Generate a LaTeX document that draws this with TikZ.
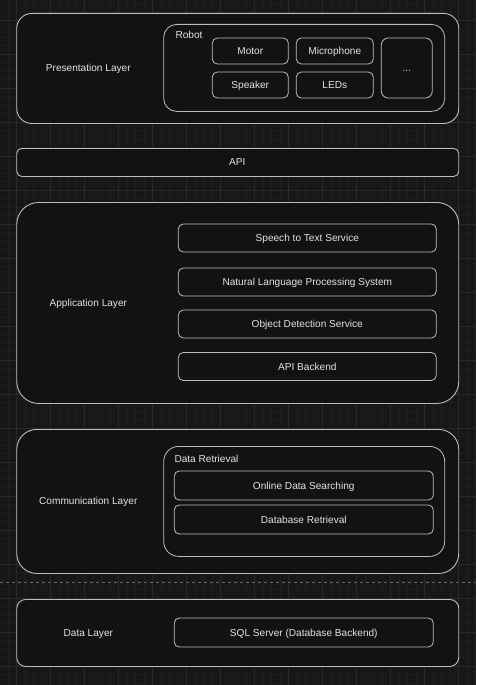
\documentclass[tikz,border=0pt]{standalone}
\usepackage{fontspec}
\setmainfont{Liberation Sans}
\definecolor{bgdark}{HTML}{171717}
\definecolor{boxfill}{HTML}{121212}
\definecolor{gridminor}{HTML}{1E1E1E}
\definecolor{gridmajor}{HTML}{292929}
\definecolor{edge}{HTML}{BDBDBD}
\definecolor{ink}{HTML}{E4E4E4}
\begin{document}
\begin{tikzpicture}[x=1pt,y=-1pt,
        every node/.style={text=ink,font=\fontsize{10.1}{12}\selectfont,text height=7.2pt,text depth=0pt},
        layer/.style={draw=edge,fill=boxfill,line width=0.9pt,anchor=north west,minimum width=442pt,inner sep=0pt},
        group/.style={draw=edge,fill=boxfill,line width=0.8pt,anchor=north west,inner sep=0pt,rounded corners=13pt},
        item/.style={draw=edge,fill=boxfill,line width=0.8pt,inner sep=0pt,rounded corners=5pt}]
        \def\W{476}
        \def\H{685}
        %% background and grid
        \fill[bgdark] (0,0) rectangle (\W,\H);
        \begin{scope}
            \clip (0,0) rectangle (\W,\H);
            \foreach \x in {0,...,56}
                \draw[gridminor,line width=0.5pt] ({7.5+8.5*\x},0) -- ({7.5+8.5*\x},\H);
            \foreach \y in {0,...,81}
                \draw[gridminor,line width=0.5pt] (0,{3+8.5*\y}) -- (\W,{3+8.5*\y});
            \foreach \x in {0,...,14}
                \draw[gridmajor,line width=0.6pt] ({16+34*\x},0) -- ({16+34*\x},\H);
            \foreach \y in {0,...,20}
                \draw[gridmajor,line width=0.6pt] (0,{20+34*\y}) -- (\W,{20+34*\y});
        \end{scope}
        %% presentation layer
        \node[layer,rounded corners=15pt,minimum height=110pt] (pres) at (16,13) {};
        \node (presL) at (88,68) {Presentation Layer};
        \node[group,minimum width=281pt,minimum height=87pt] (robot) at (163,24) {};
        \node[anchor=west,inner sep=0pt] (robotL) at (175,35) {Robot};
        \foreach \name/\x/\y/\w/\txt in {motor/250/51/76/Motor,mic/334.5/51/77/Microphone,
                speaker/250/85/76/Speaker,leds/334.5/85/77/LEDs}
            \node[item,minimum width=\w pt,minimum height=26pt] (\name) at (\x,\y) {\txt};
        \node[item,rounded corners=7pt,minimum width=51pt,minimum height=60pt] (more) at (406.5,68) {...};
        %% API
        \node[layer,rounded corners=5pt,minimum height=28pt] (api) at (16,148) {};
        \node (apiL) at (237,162) {API};
        %% application layer
        \node[layer,rounded corners=22pt,minimum height=201pt] (app) at (16,202) {};
        \node (appL) at (88,303) {Application Layer};
        \foreach \name/\y/\txt in {stt/238/Speech to Text Service,nlp/282/Natural Language Processing System,
                objdet/324/Object Detection Service,backend/366.5/API Backend}
            \node[item,minimum width=258pt,minimum height=28pt] (\name) at (307,\y) {\txt};
        %% communication layer
        \node[layer,rounded corners=20pt,minimum height=144pt] (comm) at (16,429) {};
        \node (commL) at (88,501) {Communication Layer};
        \node[group,rounded corners=15pt,minimum width=281pt,minimum height=110pt] (retr) at (163,446) {};
        \node[anchor=west,inner sep=0pt] (retrL) at (174,459) {Data Retrieval};
        \foreach \name/\y/\txt in {online/485.5/Online Data Searching,dbretr/519.5/Database Retrieval}
            \node[item,minimum width=259pt,minimum height=29pt] (\name) at (303.5,\y) {\txt};
        %% separator
        \draw[gridmajor!60!edge,line width=0.6pt,dash pattern=on 3pt off 3pt] (0,582) -- (\W,582);
        %% data layer
        \node[layer,rounded corners=9pt,minimum height=67pt] (data) at (16,599) {};
        \node (dataL) at (88,633) {Data Layer};
        \node[item,minimum width=259pt,minimum height=29pt] (sql) at (303.5,632.5) {SQL Server (Database Backend)};
    \end{tikzpicture}
\end{document}
